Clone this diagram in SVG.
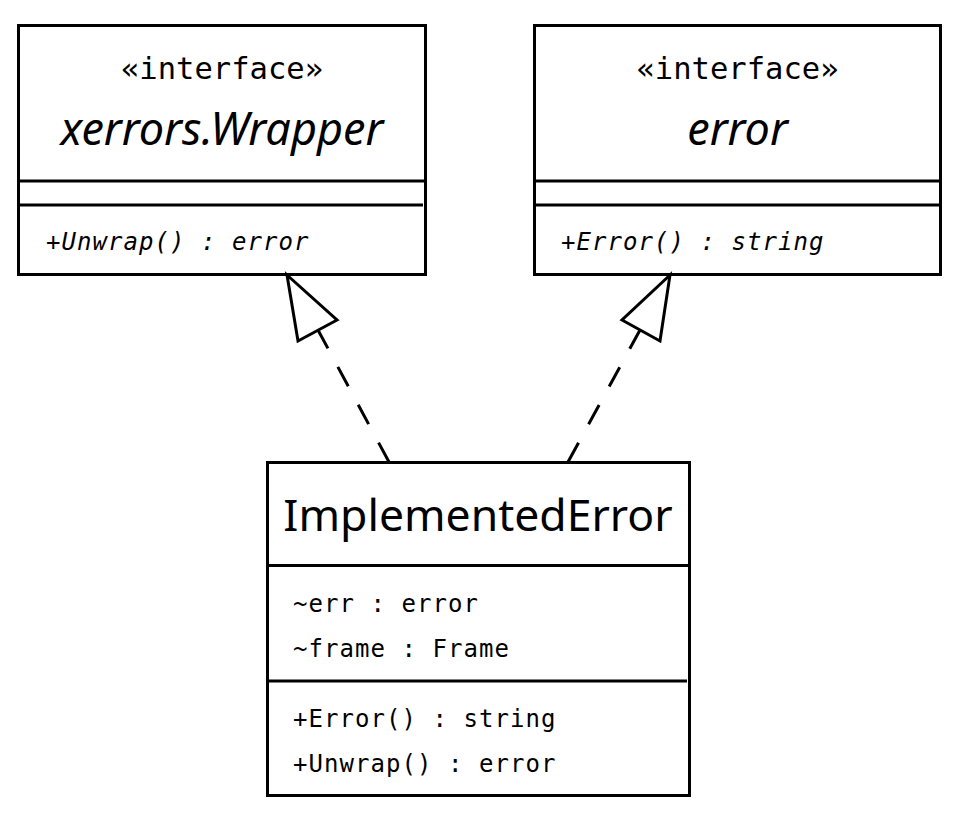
<svg xmlns="http://www.w3.org/2000/svg" width="971" height="828" viewBox="0 0 971 828">
<style>
.box{fill:#fff;stroke:#000;stroke-width:3}
.sep{stroke:#000;stroke-width:3}
.stereo{font-family:"DejaVu Sans Mono","Liberation Mono",monospace;font-size:30.5px;text-anchor:middle;fill:#000}
.iname{font-family:"Noto Sans","Open Sans",sans-serif;font-style:italic;font-size:45px;text-anchor:middle;fill:#000}
.name{font-family:"Noto Sans","Open Sans",sans-serif;font-size:44.5px;text-anchor:middle;fill:#000}
.mem{font-family:"DejaVu Sans Mono","Liberation Mono",monospace;font-size:24px;letter-spacing:1.05px;fill:#000}
.imem{font-style:italic}
.dash{fill:none;stroke:#000;stroke-width:3;stroke-dasharray:22 21}
.head{fill:#fff;stroke:#000;stroke-width:3}
</style>
<g id="wrapper">
<rect class="box" x="18.5" y="25.5" width="407" height="249"/>
<line class="sep" x1="18.5" y1="181" x2="425.5" y2="181"/>
<line class="sep" x1="18.5" y1="205" x2="423" y2="205"/>
<text class="stereo" x="222" y="79">«interface»</text>
<text class="iname" x="222" y="145">xerrors.Wrapper</text>
<text class="mem imem" x="46" y="250">+Unwrap() : error</text>
</g>
<g id="error">
<rect class="box" x="534.5" y="25.5" width="406" height="249"/>
<line class="sep" x1="534.5" y1="181" x2="940.5" y2="181"/>
<line class="sep" x1="534.5" y1="205" x2="940.5" y2="205"/>
<text class="stereo" x="737.5" y="79">«interface»</text>
<text class="iname" x="737.5" y="145">error</text>
<text class="mem imem" x="561" y="250">+Error() : string</text>
</g>
<g id="implementedError">
<rect class="box" x="267.5" y="462.5" width="422" height="333"/>
<line class="sep" x1="267.5" y1="565.5" x2="689.5" y2="565.5"/>
<line class="sep" x1="267.5" y1="681" x2="687" y2="681"/>
<text class="name" x="478" y="531">ImplementedError</text>
<text class="mem" x="293" y="612">~err : error</text>
<text class="mem" x="293" y="657">~frame : Frame</text>
<text class="mem" x="293" y="727">+Error() : string</text>
<text class="mem" x="293" y="772">+Unwrap() : error</text>
</g>
<g id="connectors">
<line class="dash" x1="389" y1="462" x2="318" y2="330"/>
<polygon class="head" points="287,275 337,320 298,341"/>
<line class="dash" x1="568" y1="462" x2="640" y2="330"/>
<polygon class="head" points="670,275 622,320 660,341"/>
</g>
</svg>
